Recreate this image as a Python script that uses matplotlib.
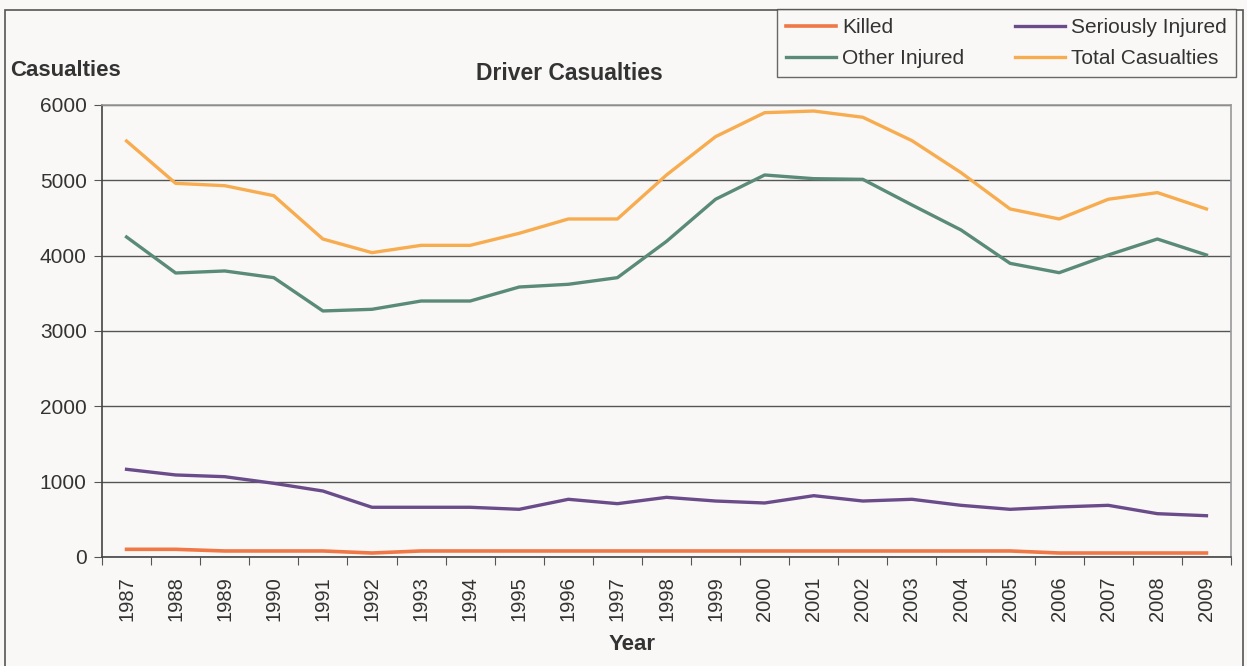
import matplotlib.pyplot as plt
from matplotlib.patches import Rectangle

years = [str(y) for y in range(1987, 2010)]
killed = [102, 102, 80, 80, 80, 53, 80, 80, 80, 80, 80, 80, 80, 80, 80, 80, 80, 80, 80, 53, 53, 53, 53]
seriously_injured = [1164, 1089, 1066, 978, 876, 660, 660, 660, 633, 766, 708, 792, 743,
                     717, 814, 743, 766, 686, 633, 664, 686, 575, 548]
other_injured = [4248, 3770, 3797, 3708, 3266, 3288, 3398, 3398, 3584, 3620, 3708, 4190, 4749,
                 5071, 5022, 5013, 4673, 4341, 3898, 3774, 4009, 4221, 4009]
total = [5522, 4960, 4929, 4796, 4221, 4040, 4137, 4137, 4297, 4487, 4487, 5071, 5580,
         5898, 5920, 5837, 5527, 5102, 4620, 4487, 4749, 4837, 4620]

plt.rcParams['font.family'] = ['Liberation Sans', 'DejaVu Sans']
bg = '#f9f8f6'
W, H = 1247, 666

fig = plt.figure(figsize=(W / 100, H / 100), dpi=100, facecolor=bg)
ax = fig.add_axes([102 / W, 1 - 557 / H, (1231 - 102) / W, (557 - 105) / H], facecolor=bg)

# outer chart frame
fig.patches.append(Rectangle((5 / W, -0.05), (1243 - 5) / W, 1.05 - 10 / H, transform=fig.transFigure,
                             fill=False, edgecolor='#555555', lw=1.2))

x = range(len(years))
ax.plot(x, killed, color='#f07846', lw=2.6, label='Killed')
ax.plot(x, other_injured, color='#5a8a78', lw=2.4, label='Other Injured')
ax.plot(x, seriously_injured, color='#6b4c8a', lw=2.4, label='Seriously Injured')
ax.plot(x, total, color='#f8ac50', lw=2.4, label='Total Casualties')

ax.set_xlim(-0.5, len(years) - 0.5)
ax.set_ylim(0, 6000)
ax.set_yticks(range(0, 7000, 1000))
ax.yaxis.grid(True, color='#555555', lw=1)
ax.set_axisbelow(True)

ax.set_xticks([i - 0.5 for i in range(len(years) + 1)])
ax.set_xticklabels([])
ax.set_xticks(list(x), minor=True)
ax.set_xticklabels(years, minor=True, rotation=90, fontsize=14.5, color='#333333')
ax.tick_params(axis='x', which='minor', length=0, pad=14)
ax.tick_params(axis='x', which='major', length=6, color='#555555')
ax.tick_params(axis='y', length=6, color='#555555', labelsize=15, labelcolor='#333333', pad=5)

for s in ['left', 'bottom']:
    ax.spines[s].set_color('#444444')
    ax.spines[s].set_linewidth(1.2)
for s in ['top', 'right']:
    ax.spines[s].set_color('#999999')
    ax.spines[s].set_linewidth(1.2)

fig.text(10 / W, 1 - 70 / H, 'Casualties', fontsize=16, fontweight='bold', color='#333333', va='center')
fig.text(569 / W, 1 - 73 / H, 'Driver Casualties', fontsize=16.5, fontweight='bold', color='#333333',
         ha='center', va='center')
fig.text(632 / W, 1 - 645 / H, 'Year', fontsize=16, fontweight='bold', color='#333333',
         ha='center', va='center')

leg = fig.legend(ncol=2, loc='upper right', bbox_to_anchor=(1236 / W, 1 - 9 / H), fontsize=15,
                 frameon=True, fancybox=False, edgecolor='#444444', facecolor=bg,
                 handlelength=2.4, columnspacing=2.4, handletextpad=0.3, borderpad=0.45,
                 labelspacing=0.55, borderaxespad=0)
leg.get_frame().set_linewidth(1.0)
for t in leg.get_texts():
    t.set_color('#333333')

fig.savefig('out.png', dpi=100, facecolor=bg)
